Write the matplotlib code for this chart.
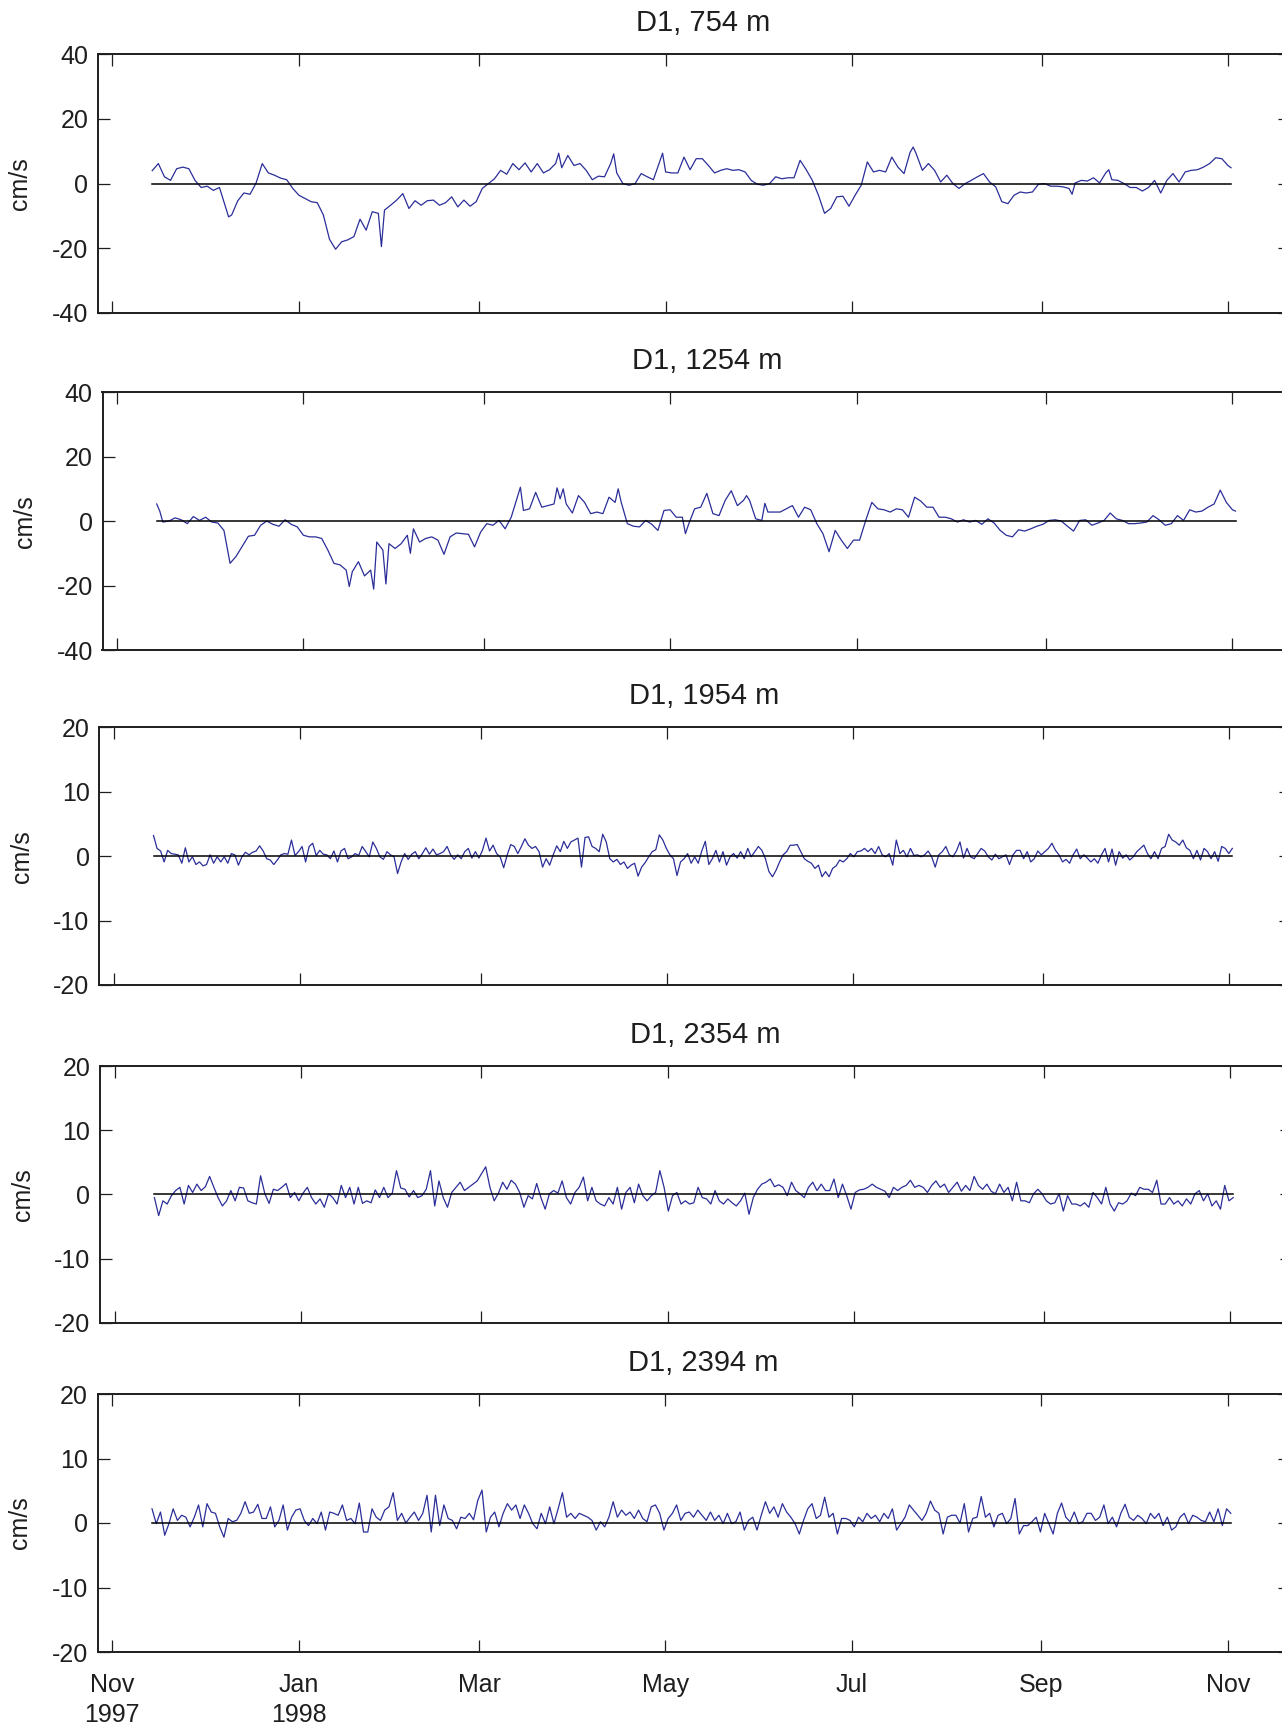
import numpy as np
import matplotlib
matplotlib.use('Agg')
import matplotlib.pyplot as plt
import matplotlib.dates as mdates
from datetime import datetime

plt.rcParams['font.family'] = ['Liberation Sans', 'DejaVu Sans']
plt.rcParams['axes.unicode_minus'] = False

# day 0 = 1 Nov 1997
t0 = mdates.date2num(datetime(1997, 11, 1))

# ---- D1, 754 m ----
days_754 = [13, 15, 17, 19, 21, 23, 25, 27, 29, 31, 33, 35, 37, 38, 39,
            41, 43, 45, 47, 49, 51, 53, 55, 57, 59, 61, 63, 65, 67, 69, 71, 73, 75, 77, 79, 81, 83, 85, 87,
            88, 89,
            91, 93, 95, 97, 99, 101, 103, 105, 107, 109, 111, 113, 115, 117, 119, 121, 123, 125, 127, 129,
            131, 133, 135, 137, 139, 141, 143, 145,
            146, 147,
            149, 151, 153, 155, 157, 159, 161, 163,
            164, 165,
            167, 169, 171, 173, 175, 177, 179,
            180, 181,
            183, 185, 187, 189, 191, 193, 195, 197, 199, 201, 203, 205, 207, 209, 211, 213, 215, 217, 219,
            221, 223, 225, 227, 229, 231, 233, 235, 237, 239, 241, 243, 245, 247, 249, 251, 253, 255, 257,
            259, 261,
            262, 263,
            265, 267, 269, 271, 273, 275, 277, 279, 281, 283, 285, 287, 289, 291, 293, 295, 297, 299, 301,
            303, 305, 307, 309, 311, 313,
            314, 315,
            317, 319, 321, 323, 325,
            326, 327,
            329, 331, 333, 335, 337, 339, 341, 343, 345, 347, 349, 351, 353, 355, 357, 359, 361, 363, 365,
            366]
u_754 = [4.0, 6.2, 2.1, 1.0, 4.6, 5.1, 4.6, 1.0, -1.2, -0.8, -2.1, -1.2, -7.2, -10.3, -9.7,
         -5.3, -2.9, -3.3, 0.2, 6.2, 3.3, 2.6, 1.7, 1.2, -1.5, -3.6, -4.6, -5.6, -5.9, -9.7, -17.2, -20.3,
         -18.0, -17.4, -16.4, -11.0, -14.4, -8.7, -9.2,
         -19.5, -8.2,
         -6.7, -5.1, -3.1, -7.7, -5.3, -6.7, -5.3, -5.1, -6.7, -5.9, -4.1, -7.2, -5.1, -7.0, -5.6, -1.5,
         0.0, 1.5, 4.1, 2.9, 6.2, 4.3, 6.4, 3.6, 6.2, 3.3, 4.3, 6.2,
         9.4, 4.9,
         8.7, 5.6, 6.2, 4.1, 1.2, 2.3, 2.1, 6.2,
         9.2, 3.3,
         0.0, -0.5, 0.0, 3.1, 2.1, 1.2, 6.7,
         9.4, 3.6,
         3.3, 3.3, 8.2, 4.3, 7.7, 7.7, 5.6, 3.3, 4.1, 4.6, 4.1, 4.3, 3.6, 1.0, -0.2, -0.5, 0.0, 2.1, 1.5,
         1.8, 1.8, 7.2, 4.3, 1.0, -3.6, -9.2, -7.7, -4.1, -3.9, -7.0, -3.6, -0.5, 6.7, 3.6, 4.1, 3.6, 8.2,
         5.1, 3.1, 9.7,
         11.3, 9.2,
         4.1, 6.2, 4.1, 0.5, 2.6, 0.0, -1.5, 0.0, 1.0, 2.1, 3.1, 0.5, -1.0, -5.6, -6.2, -3.6, -2.6, -2.9,
         -2.6, -0.2, 0.0, -0.8, -0.8, -1.0, -1.5,
         -3.3, 0.2,
         1.0, 0.8, 1.8, 0.2, 3.3,
         4.3, 1.2,
         1.0, 0.0, -1.2, -1.2, -2.3, -1.2, 1.0, -2.9, 1.0, 3.1, 0.5, 3.6, 4.1, 4.3, 5.1, 6.2, 8.0, 7.7, 5.6,
         4.9]

# ---- D1, 1254 m ----
days_1254 = [13, 14, 15, 17, 19, 21, 23, 25, 27, 29, 31, 33, 35, 36, 37, 39, 41, 43, 45, 47, 49, 51,
             53, 55, 57, 59, 61, 63, 65, 67, 69, 71, 73, 75, 76, 77, 79, 81, 83, 84, 85, 87, 88, 89,
             91, 93, 95, 96, 97, 99, 101, 103, 105, 107, 109, 111, 113, 115, 117, 119, 121, 123, 125,
             127, 129, 131, 132, 133, 135, 137, 139, 141, 143, 144, 145, 146, 147, 149, 151, 153, 155,
             157, 159, 161, 163, 164, 165, 167, 169, 171, 173, 175, 177, 179, 181, 183, 185, 186, 187,
             189, 191, 193, 195, 197, 199, 201, 203, 205, 206, 207, 209, 211, 212, 213, 215, 217, 219,
             221, 223, 225, 227, 229, 231, 233, 235, 237, 239, 241, 243, 245, 247, 249, 251, 253, 255,
             257, 259, 261, 263, 265, 267, 269, 271, 273, 275, 277, 279, 281, 283, 285, 287, 289, 291,
             293, 295, 297, 299, 301, 303, 305, 307, 309, 311, 313, 315, 317, 319, 321, 323, 325, 327,
             329, 331, 333, 335, 337, 339, 341, 343, 345, 347, 349, 351, 353, 355, 357, 359, 361, 363,
             365, 366]
u_1254 = [5.4, 3.2, -0.2, 0.1, 1.1, 0.5, -0.7, 1.5, 0.3, 1.3, -0.2, -0.5, -2.8, -7.9, -13.0, -10.8,
          -7.7, -4.6, -4.3, -1.2, 0.1, -0.9,
          -1.5, 0.5, -0.9, -1.7, -4.3, -4.8, -4.8, -5.3, -8.9, -13.0, -13.5, -15.1, -20.2, -15.6, -12.5,
          -16.9, -15.1, -21.0, -6.4, -8.9, -19.4, -6.9,
          -8.4, -6.9, -4.3, -9.9, -2.3, -6.4, -5.3, -4.8, -5.8, -10.2, -4.8, -3.6, -3.8, -4.0, -7.9,
          -3.3, -0.7, -1.2, 0.3,
          -2.3, 1.3, 7.5, 10.6, 3.4, 3.9, 9.0, 4.4, 4.9, 5.4, 10.4, 7.0, 10.1, 5.4, 2.6, 8.0, 5.9, 2.4,
          2.9, 2.4, 7.5, 5.9, 10.1, 5.9, -0.7, -1.5, -1.7, 0.3, -0.9, -2.8, 3.4, 3.6, 1.3, 1.3, -3.8, -1.0,
          3.9, 4.4, 8.7, 2.4, 1.8, 6.5, 9.5, 4.9, 6.5, 8.0, 6.5, 0.8, 0.3, 5.6, 2.9, 2.9, 2.9, 3.9,
          4.9, 1.3, 4.4, 3.6, -0.7, -3.8, -9.4, -2.8, -5.8, -8.4, -5.8, -5.8, 0.3, 5.9, 3.9, 3.6, 2.9, 3.9,
          3.6, 1.3, 7.5, 6.3, 4.4, 4.4, 1.3, 1.3, 0.8, -0.2, 0.5, -0.2, 0.3, -0.9, 0.8, -0.5, -2.8, -4.3,
          -4.8, -2.6, -3.0, -2.3, -1.5, -0.9, 0.3, 0.5, 0.1, -1.5, -3.0, 0.3, 0.5, -1.2, -0.5, 0.3, 2.6, 0.8,
          0.3, -0.7, -0.7, -0.5, -0.2, 1.8, 0.5, -1.2, -0.7, 1.8, 0.3, 3.6, 2.9, 3.2, 4.4, 5.4, 9.7, 5.9,
          3.6, 3.2]

# ---- D1, 1954 m (evenly sampled, about 1.16 days) ----
u_1954 = [3.2, 1.2, 0.8, -0.9, 0.9, 0.4, 0.3, 0.2, -1.1, 1.3, -0.9, -0.1, -1.3, -0.9, -1.5, -1.3,
          0.2, -1.1, -0.1, -0.9, -0.1, -1.1, 0.4, 0.2, -1.4, -0.1, 0.6, 0.2, 0.6, 0.8, 1.6, 0.8,
          -0.4, -0.6, -1.3, -0.6, 0.2, 0.4, 0.3, 2.5, 0.1, 0.7, 1.5, -0.9, 1.5, 2.0, 0.1, 0.9,
          0.3, 0.2, -0.4, 0.8, -0.9, 0.8, 1.2, -0.4, -0.1, 0.4, 0.1, 1.5, 0.7, -0.1, 2.2, 1.2,
          -0.1, -0.5, 0.7, 0.2, -0.1, -2.7, -0.9, 0.4, -0.5, 0.3, 0.7, -0.4, 0.4, 1.3, 0.3, 1.1,
          0.2, 0.4, 0.7, 1.5, 0.2, -0.5, 0.2, -0.4, 0.7, 1.2, -0.3, 0.7, -0.3, 0.9, 2.8, 0.8,
          1.7, 0.4, -0.1, -1.8, 0.2, 1.8, 1.5, 0.4, 1.5, 2.7, 1.7, 1.2, 1.5, 0.7, -1.7, -0.4,
          -1.4, 0.2, 1.6, 0.7, 2.3, 1.2, 2.2, 2.5, 2.8, -1.7, 2.9, 3.0, 1.5, 1.2, 0.7, 3.4,
          2.2, -0.4, -0.9, -0.5, -1.3, -0.9, -1.9, -1.4, -1.1, -3.1, -1.7, -1.0, -0.1, 0.7, 1.0, 3.3,
          2.5, 1.2, 0.2, -0.4, -3.0, -0.9, -0.4, 0.4, -1.1, -0.1, -1.1, 0.8, 2.3, -1.3, -0.4, 0.9,
          -0.9, 0.7, -1.4, -0.1, 0.4, -0.3, 0.7, -0.4, 1.2, -0.1, 0.7, 1.5, 0.9, -0.4, -2.4, -3.2,
          -2.2, -0.9, 0.2, 0.7, 1.7, 1.7, 1.8, 0.7, -0.4, -0.8, -1.1, -1.9, -1.4, -3.2, -2.4, -3.2,
          -1.9, -1.5, -0.6, -0.9, -0.4, 0.4, -0.1, 0.7, 0.8, 1.2, 0.7, 1.2, 0.4, 1.5, 0.2, -0.1,
          0.4, -1.4, 2.5, 0.4, 0.9, -0.1, 1.2, 0.1, 0.2, -0.1, 0.2, 0.8, -0.1, -1.7, 0.2, 0.7,
          1.5, 0.2, -0.1, 0.8, 2.2, -0.3, 1.2, -0.1, -0.4, 0.4, 1.2, 0.8, -0.1, -0.6, 0.3, -0.4,
          -0.1, 0.2, -1.3, 0.2, 0.9, 0.9, -0.4, 0.7, -0.9, -0.4, 0.8, 0.2, 0.7, 1.2, 2.0, 0.9,
          0.2, -0.9, -0.5, -1.1, 0.2, 1.1, -0.4, 0.2, -0.3, -0.9, -0.4, -1.1, 0.2, 1.2, -0.9, 1.1,
          -1.4, 0.7, -0.3, 0.2, -0.6, -0.1, 0.7, 1.2, 1.7, 0.4, -0.4, 0.7, -0.4, 1.2, 1.5, 3.4,
          2.5, 2.2, 1.7, 2.5, 1.3, 0.9, -0.4, 0.9, -0.6, 1.2, 0.7, -0.4, 0.7, -0.8, 1.5, 1.2,
          0.4, 1.2]

# ---- D1, 2354 m (evenly sampled, about 1.4 days) ----
u_2354 = [-0.5, -3.3, -1.0, -1.5, -0.2, 0.6, 1.1, -1.5, 1.4, 0.3, 1.6, 0.6, 1.2, 2.8, 1.1, -0.5,
          -1.8, -1.0, 0.6, -1.0, 1.1, 1.0, -1.0, -1.3, -1.5, 2.9, 0.1, -1.4, 0.8, 0.6, 1.1, 1.7,
          -0.5, 0.3, -1.0, 0.2, 1.1, -0.5, -1.5, -0.7, -2.0, 0.1, -0.5, -1.5, 1.4, -0.5, 1.1, -1.5,
          1.1, -1.4, -1.0, -1.3, 0.7, -0.5, 1.1, -0.5, 0.2, 3.7, 1.0, 0.8, -0.4, 0.6, -0.5, -0.2,
          0.8, 3.7, -1.8, 2.1, -0.5, -2.0, 0.3, 1.1, 1.9, 0.6, 1.1, 1.6, 2.1, 3.2, 4.3, 1.1,
          -1.0, 0.2, 1.9, 0.8, 2.2, 1.6, 0.3, -2.0, -0.2, -0.7, 1.7, -0.5, -2.3, 0.1, 0.6, 0.2,
          2.1, -0.5, -1.5, 0.3, 1.1, 2.7, -1.0, 1.1, -1.0, -1.5, -1.8, -0.5, -1.5, 1.1, -2.3, 0.3,
          1.1, -1.3, 1.6, -0.2, -1.0, -0.2, 0.3, 3.7, 1.1, -2.6, -0.2, 0.3, -1.5, -1.0, -1.5, -1.3,
          1.1, -0.5, -0.7, -1.5, 0.6, -1.0, -1.5, -0.7, -1.3, -1.8, -1.0, 0.2, -3.1, -0.5, 0.8, 1.6,
          1.9, 2.4, 1.2, 1.5, 1.1, -0.2, 1.9, 0.6, 0.1, -0.5, 1.1, 1.9, 0.6, 1.6, 0.6, 0.6,
          2.4, -0.5, 1.6, -0.2, -2.3, 0.3, 0.7, 0.8, 1.1, 1.6, 1.1, 0.8, 0.5, -0.5, 1.1, 0.6,
          1.1, 1.4, 2.2, 1.1, 1.4, 1.1, 0.3, 1.4, 2.1, 1.1, 1.6, 0.3, 1.1, 1.9, 0.5, 1.4,
          0.6, 2.8, 1.4, 0.8, 1.6, 0.5, 0.1, 1.6, 0.3, 1.1, -1.0, 1.9, -1.0, -1.0, -1.3, 0.1,
          0.8, 0.1, -1.0, -1.5, -1.3, 0.1, -2.6, -0.2, -1.5, -1.5, -1.8, -1.3, -2.0, 0.3, -0.5, -1.5,
          1.1, -1.5, -2.6, -1.3, -1.5, -1.0, 0.2, -0.2, 1.1, 0.8, 0.8, 0.3, 2.2, -1.5, -1.5, -0.5,
          -1.5, -1.0, -1.8, -0.7, -1.5, 0.1, 0.6, -1.0, 0.1, -1.8, -1.0, -2.3, 1.4, -1.0, -0.5]

# ---- D1, 2394 m (evenly sampled, about 1.4 days) ----
u_2394 = [2.2, -0.1, 1.7, -1.9, -0.1, 2.2, 0.4, 1.2, 0.9, -0.6, 0.9, 2.8, -0.6, 3.0, 1.7, 1.5,
          -0.6, -2.2, 0.7, 0.2, 0.4, 1.5, 3.3, 1.5, 1.7, 2.9, 0.7, 0.7, 2.5, -0.6, 0.4, 2.8,
          -1.1, 0.9, 2.0, 2.2, 0.4, -0.4, 0.7, -0.1, 1.7, -1.1, 1.7, 1.5, 1.2, 2.8, 0.4, 0.7,
          -0.1, 3.1, -1.4, -1.4, 2.2, 0.9, 0.4, 2.0, 2.5, 4.7, 0.4, 1.5, 0.0, 0.9, 1.7, 0.4,
          1.5, 4.3, -1.4, 4.3, -0.4, 2.8, 0.7, 0.4, -0.9, 0.9, 0.7, 1.5, 0.5, 3.5, 5.1, -1.4,
          0.9, 1.7, -0.6, 1.5, 3.0, 2.0, 2.8, 0.7, 2.8, 1.5, -0.1, -0.9, 1.5, -0.1, 2.5, -0.1,
          2.2, 4.7, 0.9, 1.5, 0.7, 1.5, 1.2, 0.9, 0.4, -1.1, 0.2, -0.6, 0.9, 3.3, 0.9, 2.0,
          1.2, 1.7, 0.7, 2.0, 0.7, 0.2, 2.5, 2.8, 1.5, -1.1, 0.7, 1.5, 2.8, 0.4, 1.5, 1.7,
          0.9, 2.0, 1.2, 0.4, 1.7, 0.4, 1.2, -0.1, 1.5, -0.1, 0.2, 1.7, -1.1, 0.4, 0.9, -1.1,
          1.2, 3.3, 1.5, 2.5, 0.9, 3.0, 1.7, 0.9, -0.1, -1.7, 0.4, 2.2, 3.0, 0.7, 1.2, 4.0,
          0.9, 1.5, -1.7, 0.7, 0.7, 0.4, -0.6, 0.9, 0.2, 1.5, 0.7, 1.2, 0.2, 1.5, 0.7, 2.2,
          -1.1, -0.1, 0.9, 2.8, 2.0, 1.2, 0.4, 1.5, 3.4, 2.0, 1.5, -1.7, 0.9, 1.2, 1.2, 0.0,
          3.0, -1.4, 0.7, 0.9, 4.1, 0.9, 1.5, -0.6, 1.2, 1.5, -0.1, 0.7, 3.8, -1.7, -0.4, -0.4,
          0.2, 0.9, -1.4, 1.5, -0.1, -1.7, 1.5, 3.1, 0.9, 0.2, 1.7, -0.1, 0.2, 1.5, 1.5, 0.4,
          0.9, 2.8, -0.1, 0.9, -0.6, 1.5, 2.9, 0.9, 0.4, 1.2, 0.7, -0.1, 1.5, 0.7, 1.5, -0.4,
          0.9, -1.1, -0.6, 0.9, 1.5, -0.1, 1.2, 0.9, 0.4, 0.2, 1.7, 0.2, 2.2, -0.4, 2.2, 1.5]

titles = ['D1, 754 m', 'D1, 1254 m', 'D1, 1954 m', 'D1, 2354 m', 'D1, 2394 m']
ylims = [40, 40, 20, 20, 20]
tick_dates = [datetime(1997, 11, 1), datetime(1998, 1, 1), datetime(1998, 3, 1), datetime(1998, 5, 1),
              datetime(1998, 7, 1), datetime(1998, 9, 1), datetime(1998, 11, 1)]
tick_labels = ['Nov\n1997', 'Jan\n1998', 'Mar', 'May', 'Jul', 'Sep', 'Nov']

series = [
    (days_754, u_754),
    (days_1254, u_1254),
    (np.linspace(13, 366, len(u_1954)), u_1954),
    (np.linspace(13, 366, len(u_2354)), u_2354),
    (np.linspace(13, 366, len(u_2394)), u_2394),
]

W, H = 1282, 1729
# left edge, top, bottom of each panel in pixels
boxes = [(98, 54.3, 312.9), (102.5, 392.4, 650.4), (99.3, 727.3, 985.0),
         (100.2, 1066.0, 1322.8), (97.8, 1394.0, 1652.0)]
ax_w = 1192

line_col = '#2b2e98'
txt_col = '#1e1e1e'

fig = plt.figure(figsize=(W / 100, H / 100), dpi=100)
tick_nums = mdates.date2num(tick_dates)

for i, (days, u) in enumerate(series):
    left, top, bottom = boxes[i]
    ax = fig.add_axes([left / W, 1 - bottom / H, ax_w / W, (bottom - top) / H])
    n = min(len(days), len(u))
    x = t0 + np.asarray(days[:n], dtype=float)
    y = np.asarray(u[:n], dtype=float)
    ax.plot(x, y, color=line_col, lw=0.9)
    ax.plot([x[0], x[-1]], [0, 0], color='black', lw=1.1)

    lim = ylims[i]
    ax.set_xlim(t0 - 4.74, t0 + 385.3)
    ax.set_ylim(-lim, lim)
    ax.set_yticks(np.arange(-lim, lim + 1, lim // 2))
    ax.set_yticklabels([str(v) for v in np.arange(-lim, lim + 1, lim // 2)])
    ax.set_xticks(tick_nums)
    if i == len(series) - 1:
        ax.set_xticklabels(tick_labels, linespacing=1.3)
        for lab in ax.get_xticklabels():
            lab.set_x(lab.get_position()[0])
    else:
        ax.set_xticklabels([])

    ax.tick_params(axis='both', direction='in', length=8.4, width=0.9, top=True, right=True,
                   labelsize=18, colors=txt_col)
    ax.tick_params(axis='y', pad=7)
    ax.tick_params(axis='x', pad=15)
    for sp in ax.spines.values():
        sp.set_linewidth(1.4)
        sp.set_color(txt_col)

    ax.set_ylabel('cm/s', fontsize=18, color=txt_col, labelpad=14)
    ax.set_title(titles[i], fontsize=21, color=txt_col, pad=16.5, x=0.5076)

fig.savefig('out.png', dpi=100)
